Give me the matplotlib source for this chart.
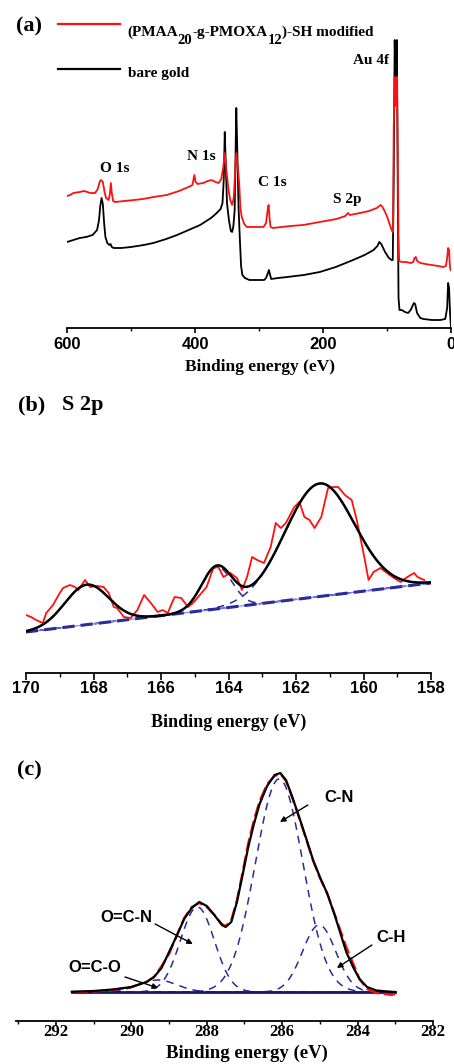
import numpy as np
import matplotlib
matplotlib.use("Agg")
import matplotlib.pyplot as plt
from matplotlib.lines import Line2D

# ---------------- data: panel (a) survey spectra ----------------
survey_black_E = [600, 590, 580, 570, 560, 553, 550, 548, 546, 544, 542, 540, 537, 534, 532, 530, 527,
                  515, 500, 480, 465, 445, 428, 410, 392, 375, 366, 360, 357, 355, 353.5, 352, 350, 347,
                  344, 342, 340, 338, 336.5, 335.5, 334, 332, 330, 328, 326, 322, 315, 300, 292, 289,
                  286, 284.5, 283, 281, 270, 256, 230, 205, 180, 153, 135, 121, 115, 112, 109, 103, 97,
                  93, 91, 89.5, 88, 86.3, 84.5, 83.3, 82, 80.5, 77, 72, 67, 63, 58, 56, 53, 48, 43, 30,
                  17, 9, 6, 4.5, 3, 1.5, 0]
survey_black_I = [86, 88, 90, 91, 93, 98, 108, 122, 130, 124, 105, 91, 85, 83, 84, 81, 80,
                  80, 81, 83, 85, 89, 93, 98, 103, 110, 115, 119, 125, 150, 196, 165, 125, 108,
                  97, 96, 102, 118, 180, 220, 180, 121, 90, 62, 53, 50, 48, 48, 48, 50,
                  55, 58, 54, 49, 50, 51, 53, 56, 61, 68, 73, 78, 82, 86, 84, 76, 70,
                  68, 68, 150, 288, 240, 288, 150, 30, 18, 18, 16, 15, 18, 25, 24, 15, 10, 9, 8,
                  8, 9, 20, 45, 40, 15, 1]
survey_red_E = [600, 595, 590, 580, 574, 568, 564, 556, 552, 549, 547, 544, 541, 539, 535, 533, 531.5,
                530, 528, 525, 510, 495, 481, 465, 444, 425, 410, 404, 401, 399, 396, 387, 380, 374,
                368, 363, 359, 356, 353.5, 351, 348, 345, 342, 339.5, 337, 335.5, 333, 331, 329, 327,
                323, 319, 305, 293, 289, 286.5, 285, 283.5, 282, 278, 265, 250, 231, 205, 179, 165,
                161, 158, 142, 128, 116, 110, 107, 103, 99, 95, 92, 90.5, 89.5, 88, 86.3, 84.5, 83.3,
                82, 81, 77, 70, 63, 59, 57, 55, 53, 48, 40, 30, 20, 12, 8, 6, 4.5, 3, 2, 1.5, 0.5]
survey_red_I = [132, 133, 135, 136, 137, 136, 135, 135, 139, 146, 148, 146, 135, 130, 128, 134, 145,
                135, 127, 126, 127, 128, 129, 131, 133, 137, 141, 143, 153, 146, 144, 145, 147, 148,
                146, 145, 149, 160, 175, 158, 140, 128, 123, 130, 160, 175, 160, 145, 120, 111,
                104, 101, 101, 101, 105, 118, 123, 110, 101, 100, 101, 102, 103, 106, 109, 112,
                115, 113, 115, 117, 120, 123, 121, 116, 110, 102, 97, 96, 200, 251, 222, 251, 180,
                90, 67, 66, 66, 65, 66, 70, 71, 67, 65, 64, 63, 62, 61, 62, 70, 80, 78, 65, 60, 58]
survey_ticks = [600, 400, 200, 0]
survey_minor = [500, 300, 100]
survey_peak_labels = ["O 1s", "N 1s", "C 1s", "S 2p", "Au 4f"]
survey_peak_label_E = [525, 390.6, 279.7, 162.5, 125]
survey_peak_label_I = [160, 172, 145, 128, 267]
legend_parts = ["(PMAA", "20", "-g-PMOXA", "12", ")-SH modified"]
legend_is_sub = [False, True, False, True, False]
legend_black = "bare gold"

# ---------------- data: panel (b) S 2p ----------------
s2p_E = [170.0, 169.85, 169.7, 169.5, 169.4, 169.2, 169.0, 168.9, 168.7, 168.55, 168.45, 168.25, 168.1,
         167.9, 167.7, 167.55, 167.4, 167.3, 167.1, 166.9, 166.7, 166.5, 166.3, 166.1, 165.95, 165.8,
         165.6, 165.4, 165.2, 165.05, 164.85, 164.65, 164.45, 164.3, 164.15, 163.95, 163.75, 163.6,
         163.45, 163.3, 163.15, 162.95, 162.75, 162.6, 162.45, 162.3, 162.05, 161.9, 161.75, 161.6,
         161.45, 161.25, 161.05, 160.9, 160.75, 160.55, 160.35, 160.2, 160.0, 159.85, 159.7, 159.5,
         159.3, 159.1, 158.9, 158.7, 158.5, 158.4, 158.2]
s2p_I = [58, 56, 53, 50, 60, 68, 80, 85, 88, 86, 83, 93, 86,
         87, 86, 80, 66, 65, 56, 55, 63, 78, 70, 61, 63, 60,
         76, 75, 66, 70, 78, 86, 105, 106, 96, 100, 95, 83,
         96, 116, 113, 110, 126, 150, 145, 150, 166, 171, 156, 153,
         145, 156, 185, 186, 186, 178, 173, 153, 120, 93, 101, 105,
         100, 95, 91, 96, 100, 96, 93]
s2p_bg_E = [170, 158]
s2p_bg_I = [41, 90]
s2p_centers = [168.2, 164.35, 161.3]
s2p_heights = [40, 42, 113]
s2p_sigmas = [0.65, 0.45, 1.03]
s2p_ticks = [170, 168, 166, 164, 162, 160, 158]
s2p_minor = [169, 167, 165, 163, 161, 159]

# ---------------- data: panel (c) C 1s ----------------
c1s_env_E = [291.58, 291.0, 290.5, 290.0, 289.6, 289.4, 289.2, 289.0, 288.8, 288.6, 288.4, 288.2, 288.0,
             287.8, 287.6, 287.5, 287.35, 287.2, 287.05, 286.9, 286.75, 286.6, 286.4, 286.2, 286.05,
             285.9, 285.75, 285.55, 285.35, 285.18, 285.0, 284.8, 284.6, 284.45, 284.3, 284.12,
             283.95, 283.75, 283.5, 283.2, 283.0]
c1s_env_I = [0.3, 1, 2.5, 5, 10, 15, 24, 40, 56, 73, 84, 90, 86,
             77, 67, 65, 70, 90, 117, 145, 168, 188, 206, 217, 219,
             212, 197, 175, 152, 132, 115, 98, 76, 58, 40, 25,
             13, 5, 1.5, 0.5, 0]
c1s_raw_E = [291.5, 291.0, 290.5, 290.0, 289.6, 289.4, 289.2, 289.0, 288.8, 288.6, 288.4, 288.2, 288.0,
             287.8, 287.6, 287.5, 287.35, 287.2, 287.05, 286.9, 286.75, 286.6, 286.4, 286.2, 286.05,
             285.9, 285.75, 285.55, 285.35, 285.18, 285.0, 284.8, 284.6, 284.45, 284.3, 284.12,
             283.95, 283.75, 283.5, 283.3, 283.1, 283.0]
c1s_raw_I = [0, 0.5, 2, 5, 10, 15, 26, 38, 56, 74, 85, 89, 85,
             77, 68, 66, 72, 92, 120, 149, 172, 191, 208, 216, 218,
             211, 196, 174, 151, 131, 114, 98, 77, 61, 45, 29,
             13, 3, -1, -2, -3, -2]
c1s_names = ["O=C-O", "O=C-N", "C-N", "C-H"]
c1s_centers = [289.3, 288.25, 286.08, 285.02]
c1s_heights = [12, 85, 213, 67]
c1s_sigmas = [0.5, 0.45, 0.63, 0.44]
c1s_label_E = [290.97, 290.13, 284.49, 283.11]
c1s_label_I = [24, 75, 194, 54]
c1s_arrow_tail_E = [290.17, 289.37, 285.32, 283.62]
c1s_arrow_tail_I = [15, 68, 187, 47]
c1s_arrow_head_E = [289.29, 288.37, 286.06, 284.55]
c1s_arrow_head_I = [4, 48, 170, 24]
c1s_ticks = [292, 290, 288, 286, 284, 282]
c1s_minor = [293, 291, 289, 287, 285, 283]

# ---------------- figure ----------------
W, H = 454, 1064
fig = plt.figure(figsize=(W / 100, H / 100), dpi=100)
SERIF = 'Liberation Serif'
SANS = 'Liberation Sans'
NAVY = '#2b2b9a'
RED = '#ff1010'


def axes_px(left, right, top, bottom):
    return fig.add_axes([left / W, 1 - bottom / H, (right - left) / W, (bottom - top) / H])


def ftext(x, y, s, **kw):
    return fig.text(x / W, 1 - y / H, s, **kw)


def style_axes(ax, major, minor, font, pad, length=3.8):
    for sp in ['left', 'right', 'top']:
        ax.spines[sp].set_visible(False)
    ax.spines['bottom'].set_linewidth(1.3)
    ax.set_yticks([])
    ax.set_xticks(major)
    ax.set_xticks(minor, minor=True)
    ax.tick_params(axis='x', which='major', direction='out', length=length, width=1.2, pad=pad)
    ax.tick_params(axis='x', which='minor', direction='out', length=length * 0.6, width=1.0)
    for lab in ax.get_xticklabels():
        lab.set_fontfamily(font)
        lab.set_fontweight('bold')
        lab.set_fontsize(12)
    ax.patch.set_alpha(0)


def gauss(x, c, h, s):
    return h * np.exp(-(x - c) ** 2 / (2 * s ** 2))


# ---- panel (a)
axA = axes_px(67, 451, 20, 328)
axA.plot(survey_black_E, survey_black_I, color='black', lw=1.3, zorder=2)
axA.plot(survey_red_E, survey_red_I, color=RED, lw=1.3, zorder=3)
axA.set_xlim(600, 0)
axA.set_ylim(0, 308)
style_axes(axA, survey_ticks, survey_minor, SANS, pad=2.5)
for s, e, i in zip(survey_peak_labels, survey_peak_label_E, survey_peak_label_I):
    axA.text(e, i, s, ha='center', va='center', fontfamily=SERIF, fontweight='bold', fontsize=11)

ftext(29, 26, '(a)', ha='center', va='center', fontfamily=SERIF, fontweight='bold', fontsize=16)
fig.add_artist(Line2D([58 / W, 120 / W], [1 - 24 / H] * 2, color=RED, lw=1.6))
fig.add_artist(Line2D([58 / W, 120 / W], [1 - 69 / H] * 2, color='black', lw=1.6))

renderer = fig.canvas.get_renderer()
xpos = 127.0
for part, sub in zip(legend_parts, legend_is_sub):
    t = ftext(xpos, 38 if sub else 36, part, ha='left', va='baseline', fontfamily=SERIF,
              fontweight='bold', fontsize=10.5 if sub else 11)
    xpos += t.get_window_extent(renderer).width
    if sub:
        t.set_y(1 - 44 / H)
ftext(128, 73, legend_black, ha='left', va='center', fontfamily=SERIF, fontweight='bold', fontsize=11)
ftext(260, 367, 'Binding energy (eV)', ha='center', va='center', fontfamily=SERIF,
      fontweight='bold', fontsize=12.5)

# ---- panel (b)
axB = axes_px(26, 431, 430, 673)
xb = np.linspace(170, 158, 400)
bg = np.interp(xb, s2p_bg_E[::-1], s2p_bg_I[::-1])
env = bg.copy()
for c, h, s in zip(s2p_centers, s2p_heights, s2p_sigmas):
    comp = gauss(xb, c, h, s)
    env += comp
    axB.plot(xb, bg + comp, color=NAVY, lw=1.1, ls=(0, (5, 4)), zorder=2)
axB.plot(s2p_bg_E, s2p_bg_I, color='#7f7fff', lw=0.8, zorder=2)
axB.plot(s2p_bg_E, s2p_bg_I, color=NAVY, lw=2.2, ls=(0, (4, 2)), zorder=2)
axB.plot(s2p_E, s2p_I, color=RED, lw=1.3, zorder=3)
axB.plot(xb, env, color='black', lw=1.8, zorder=4)
axB.set_xlim(170, 158)
axB.set_ylim(0, 243)
style_axes(axB, s2p_ticks, s2p_minor, SANS, pad=0.5, length=5)
ftext(18, 405, '(b)', ha='left', va='center', fontfamily=SERIF, fontweight='bold', fontsize=16)
ftext(62, 405, 'S 2p', ha='left', va='center', fontfamily=SERIF, fontweight='bold', fontsize=16)
ftext(229, 722, 'Binding energy (eV)', ha='center', va='center', fontfamily=SERIF,
      fontweight='bold', fontsize=13)

# ---- panel (c)
axC = axes_px(16.4, 433, 762, 1021)
xc = np.linspace(291.58, 283.0, 400)
for c, h, s in zip(c1s_centers, c1s_heights, c1s_sigmas):
    axC.plot(xc, gauss(xc, c, h, s), color=NAVY, lw=1.1, ls=(0, (5, 4)), zorder=2)
axC.plot([291.58, 283.0], [0, 0], color='#1a1a5a', lw=2.0, zorder=2)
axC.plot(c1s_raw_E, c1s_raw_I, color=RED, lw=1.6, ls=(0, (6, 2)), zorder=3)
axC.plot(c1s_env_E, c1s_env_I, color='black', lw=1.6, zorder=4)
axC.set_xlim(293.05, 282)
axC.set_ylim(-29, 230)
style_axes(axC, c1s_ticks, c1s_minor, SERIF, pad=-1.5)
for name, le, li, te, ti, he, hi in zip(c1s_names, c1s_label_E, c1s_label_I, c1s_arrow_tail_E,
                                        c1s_arrow_tail_I, c1s_arrow_head_E, c1s_arrow_head_I):
    axC.text(le, li, name, ha='center', va='center', fontfamily=SANS, fontweight='bold', fontsize=12)
    axC.annotate('', xy=(he, hi), xytext=(te, ti),
                 arrowprops=dict(arrowstyle='-|>', color='black', lw=1.0, mutation_scale=8,
                                 shrinkA=0, shrinkB=0), zorder=5)
ftext(29, 770, '(c)', ha='center', va='center', fontfamily=SERIF, fontweight='bold', fontsize=16)
ftext(247, 1053, 'Binding energy (eV)', ha='center', va='center', fontfamily=SERIF,
      fontweight='bold', fontsize=13.5)

fig.savefig('out.png', dpi=100, facecolor='white')
